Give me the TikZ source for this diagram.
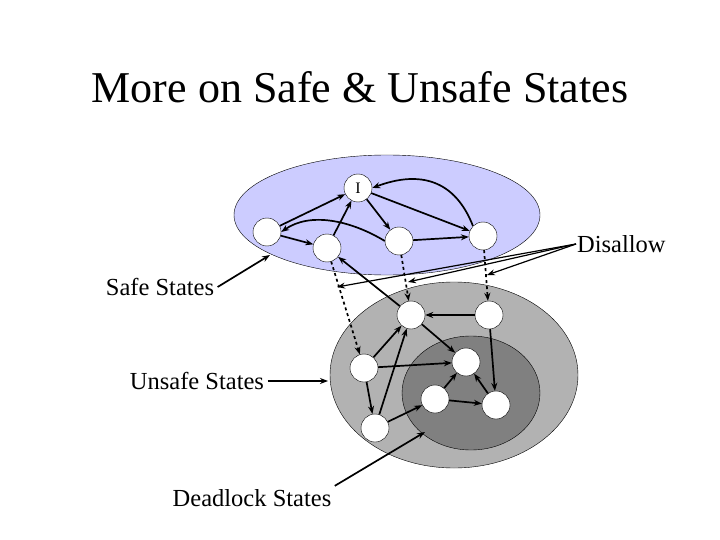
\documentclass[tikz,border=0pt]{standalone}
\usepackage{fontspec}
\setmainfont{Liberation Serif}
\usetikzlibrary{arrows.meta}
\begin{document}
\begin{tikzpicture}[x=1pt,y=-1pt,
  st/.style={circle,draw,fill=white,minimum size=28pt,inner sep=0pt,font=\fontsize{16}{16}\selectfont},
  ar/.style={-{Stealth[length=8pt,width=6pt]},line width=1.7pt},
  da/.style={ar,dashed},
  lbl/.style={font=\fontsize{24.5}{26}\selectfont}]
\useasboundingbox (0,0) rectangle (720,540);
\node[font=\fontsize{44}{46}\selectfont] (title) at (360,87) {More on Safe \& Unsafe States};
\draw[fill={rgb,255:red,204;green,204;blue,255}] (387,215) ellipse [x radius=153,y radius=60];
\draw[fill={rgb,255:red,178;green,178;blue,178}] (454,375) ellipse [x radius=124,y radius=93];
\draw[fill={rgb,255:red,128;green,128;blue,128}] (471,393) ellipse [x radius=69,y radius=57];
\node[st] (I) at (358,188) {I};
\node[st] (A) at (267,232) {};
\node[st] (B) at (327,248) {};
\node[st] (C) at (399,241) {};
\node[st] (D) at (483,236) {};
\node[st] (E) at (411,315) {};
\node[st] (F) at (489,315) {};
\node[st] (G) at (364,368) {};
\node[st] (H) at (466,362) {};
\node[st] (J) at (435,399) {};
\node[st] (K) at (496,405) {};
\node[st] (L) at (375,428) {};
\draw[ar] (A) -- (I);
\draw[ar] (A) -- (B);
\draw[ar] (B) -- (I);
\draw[ar] (I) -- (C);
\draw[ar] (I) -- (D);
\draw[ar] (C) -- (D);
\draw[ar] (D.north west) .. controls (455,180) and (420,170) .. (I.east);
\draw[ar] (C.west) .. controls (350,220) and (310,212) .. (A.east);
\draw[da] (B) -- (G);
\draw[da] (C) -- (E);
\draw[da] (D) -- (F);
\draw[ar] (E) -- (B);
\draw[ar] (F) -- (E);
\draw[ar] (E) -- (H);
\draw[ar] (F) -- (K);
\draw[ar] (G) -- (E);
\draw[ar] (G) -- (H);
\draw[ar] (G) -- (L);
\draw[ar] (L) -- (E);
\draw[ar] (L) -- (J);
\draw[ar] (J) -- (H);
\draw[ar] (J) -- (K);
\draw[ar] (K) -- (H);
\node[lbl,anchor=west,inner sep=1pt] (dis) at (576,244) {Disallow};
\coordinate (d1) at (337,287);
\coordinate (d2) at (408,282);
\coordinate (d3) at (487,275);
\draw[ar,line width=1.2pt] (dis.west) -- (d1);
\draw[ar,line width=1.2pt] (dis.west) -- (d2);
\draw[ar,line width=1.2pt] (dis.west) -- (d3);
\node[lbl] (safe) at (160,287) {Safe States};
\node[lbl] (unsafe) at (197,381) {Unsafe States};
\node[lbl] (dead) at (252,498) {Deadlock States};
\coordinate (s1) at (270,255);
\coordinate (u1) at (328,381);
\coordinate (k1) at (425,432);
\draw[ar] (safe.east) -- (s1);
\draw[ar] (unsafe.east) -- (u1);
\draw[ar] (dead.north east) -- (k1);
\end{tikzpicture}
\end{document}
